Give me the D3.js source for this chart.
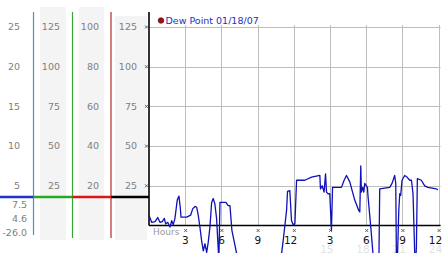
<!DOCTYPE html>
<html>
<head>
<meta charset="utf-8">
<script src="https://cdn.jsdelivr.net/npm/d3@7"></script>
<style>
  body { margin: 0; background: #fff; }
  svg { display: block; font-family: "DejaVu Sans", Verdana, sans-serif; }
</style>
</head>
<body>
<svg id="chart"></svg>
<script>
// data
const legendLabel = "Dew Point 01/18/07";
const hours = [0.00, 0.22, 0.50, 0.72, 0.91, 1.10, 1.27, 1.38, 1.55, 1.74, 1.88, 2.01, 2.15, 2.34, 2.48, 2.59, 2.65, 3.12,
  3.45, 3.62, 3.81, 3.95, 4.08, 4.22, 4.36, 4.50, 4.64, 4.78, 4.91, 5.05, 5.19, 5.32, 5.46, 5.60, 5.79, 5.88, 6.07, 6.37,
  6.56, 6.71, 6.87, 7.26, 7.95, 8.77, 9.40, 10.43, 10.99, 11.12, 11.26, 11.40, 11.48, 11.67, 11.81, 11.95, 12.09, 12.23,
  12.91, 13.47, 14.16, 14.21, 14.35, 14.51, 14.63, 14.71, 14.84, 14.98, 15.12, 15.21, 15.95, 16.17, 16.37, 16.64, 17.05,
  17.38, 17.47, 17.55, 17.60, 17.71, 17.80, 17.88, 18.10, 18.15, 18.38, 18.56, 18.79, 19.06, 19.12, 19.95, 20.14, 20.36,
  20.45, 20.50, 20.56, 20.70, 20.78, 20.86, 20.97, 21.19, 21.38, 21.61, 21.75, 21.88, 21.96, 22.02, 22.10, 22.16, 22.24,
  22.57, 22.85, 23.10, 23.82, 23.95];
const dewPoint = [1.3, 0.4, 0.5, 1.0, 0.4, 0.5, 0.9, 0.2, 0.4, -0.2, 0.6, 0.1, 0.9, 3.2, 3.7, 2.3, 1.05, 1.05,
  1.3, 2.1, 2.4, 2.3, 1.3, -0.2, -1.9, -3.2, -2.3, -3.4, -2.1, -0.2, 2.9, 3.4, 2.7, 0.9, -4.4, 2.9, 2.9, 2.9,
  2.5, 2.5, -0.6, -3.5, -8.2, -26.0, -9.5, -7.0, -3.5, -1.9, 0.0, 1.9, 4.3, 4.4, 0.6, 0.1, 0.2, 5.7,
  5.7, 6.1, 6.3, 4.6, 5.0, 4.2, 6.5, 4.2, 4.0, 4.0, -0.6, 4.8, 4.8, 5.7, 6.3, 5.5, 3.2,
  1.9, 1.7, 7.5, 4.2, 4.8, 4.2, 5.3, 4.8, 3.7, -0.2, -3.5, -7.0, -3.5, 4.6, 4.8, 5.3, 6.3,
  5.3, -3.5, -5.7, 1.9, 4.0, 3.8, 5.7, 6.3, 6.1, 5.7, 5.7, 4.0, -0.2, -3.5, -4.7, -2.7, 5.9,
  5.7, 5.0, 4.8, 4.6, 4.5];
const statLabels = ["7.5", "4.6", "-26.0"];   // high, average, low
const currentDew = 3.6;

// left scale columns
const scaleCols = [
  { max: 25,  ticks: [25, 20, 15, 10, 5],      lineColor: "#3a9cc0", barColor: "#1f33cc", shade: false },
  { max: 125, ticks: [125, 100, 75, 50, 25],   lineColor: "#33a833", barColor: "#22aa22", shade: true },
  { max: 100, ticks: [100, 80, 60, 40, 20],    lineColor: "#b82828", barColor: "#dd1515", shade: true },
  { max: 125, ticks: [125, 100, 75, 50, 25],   lineColor: "#000",    barColor: "#000",    shade: true }
];
const xTicks = [3, 6, 9, 12, 15, 18, 21, 24];
const xTickLabels = ["3", "6", "9", "12", "3", "6", "9", "12"];
const xTickLabels2 = ["", "", "", "", "15", "18", "21", "24"];

const width = 442, height = 253;
const svg = d3.select("#chart").attr("width", width).attr("height", height);

const plotLeft = 149, plotRight = 438.6, yZero = 225.5, yTop = 27;
const x = d3.scaleLinear().domain([0, 24]).range([plotLeft, plotRight]);
const yC = d3.scaleLinear().domain([0, 25]).range([yZero, yTop]);

// column geometry
const colX = [0, 33.5, 72.5, 111, 149];
const labelRight = [20, 60, 99, 137];
const shadeBox = [null, [40, 7, 26], [79, 7, 25], [115, 16, 32]];

scaleCols.forEach((c, i) => {
  const ys = d3.scaleLinear().domain([0, c.max]).range([yZero, yTop]);
  if (c.shade) {
    const b = shadeBox[i];
    svg.append("rect").attr("x", b[0]).attr("y", b[1]).attr("width", b[2]).attr("height", 240 - b[1])
      .attr("fill", "#f4f4f4");
  }
  svg.append("g").selectAll("text").data(c.ticks).enter().append("text")
    .attr("x", labelRight[i]).attr("y", d => ys(d)).attr("dy", "0.35em")
    .attr("text-anchor", "end").style("font-size", "9.5px").style("fill", "#808080")
    .text(d => d);
});

// stats under the first column
svg.append("g").selectAll("text").data(statLabels).enter().append("text")
  .attr("x", 27).attr("y", (d, i) => 205 + i * 14).attr("dy", "0.35em")
  .attr("text-anchor", "end").style("font-size", "9.5px").style("fill", "#808080")
  .text(d => d);

// vertical divider lines
scaleCols.forEach((c, i) => {
  if (i === 3) return;
  svg.append("line").attr("x1", colX[i + 1]).attr("x2", colX[i + 1])
    .attr("y1", 12).attr("y2", i === 0 ? 235 : 238)
    .attr("stroke", c.lineColor).attr("stroke-width", 1.2);
});

// grid
const grid = svg.append("g").attr("stroke", "#bdbdbd").attr("stroke-width", 1);
grid.selectAll(".h").data([5, 10, 15, 20, 25]).enter().append("line")
  .attr("x1", plotLeft).attr("x2", plotRight + 2)
  .attr("y1", d => Math.round(yC(d)) + 0.5).attr("y2", d => Math.round(yC(d)) + 0.5);
grid.selectAll(".v").data(xTicks).enter().append("line")
  .attr("x1", d => Math.round(x(d)) + 0.5).attr("x2", d => Math.round(x(d)) + 0.5)
  .attr("y1", 25).attr("y2", yZero);

// current value bar across columns
scaleCols.forEach((c, i) => {
  svg.append("line").attr("x1", colX[i]).attr("x2", colX[i + 1])
    .attr("y1", yC(currentDew)).attr("y2", yC(currentDew))
    .attr("stroke", c.barColor).attr("stroke-width", 2.5);
});

// axes lines
svg.append("line").attr("x1", plotLeft).attr("x2", plotLeft).attr("y1", 12).attr("y2", yZero)
  .attr("stroke", "#000").attr("stroke-width", 1.6);
svg.append("line").attr("x1", plotLeft).attr("x2", plotRight + 2).attr("y1", yZero).attr("y2", yZero)
  .attr("stroke", "#000").attr("stroke-width", 1.3);

// small tick marks
function mark(g, cx, cy) {
  g.append("path")
    .attr("d", `M${cx - 1.5},${cy - 1.5}L${cx + 1.5},${cy + 1.5}M${cx + 1.5},${cy - 1.5}L${cx - 1.5},${cy + 1.5}`)
    .attr("stroke", "#444").attr("stroke-width", 0.8).attr("fill", "none");
}
const marks = svg.append("g");
[5, 10, 15, 20, 25].forEach(d => mark(marks, 146.5, yC(d)));
xTicks.forEach(d => mark(marks, x(d) + 0.5, 230.5));

// x labels
svg.append("g").selectAll("text").data(xTicks).enter().append("text")
  .attr("x", d => x(d) + 3.5).attr("y", 243.5).attr("text-anchor", "end")
  .style("font-size", "10.5px").style("fill", "#111")
  .text((d, i) => xTickLabels[i]);
svg.append("g").selectAll("text").data(xTicks).enter().append("text")
  .attr("x", d => x(d) + 3.5).attr("y", 252.5).attr("text-anchor", "end")
  .style("font-size", "10.5px").style("fill", "#e2e2e2")
  .text((d, i) => xTickLabels2[i]);
svg.append("text").attr("x", 153).attr("y", 235).style("font-size", "9px").style("fill", "#999")
  .text("Hours");

// dew point line
const line = d3.line().x((d, i) => x(hours[i])).y(d => yC(d));
svg.append("path").datum(dewPoint).attr("d", line)
  .attr("fill", "none").attr("stroke", "#1010b8").attr("stroke-width", 1.3)
  .attr("stroke-linejoin", "round");

// legend
svg.append("circle").attr("cx", 161).attr("cy", 20.5).attr("r", 2.8)
  .attr("fill", "#a01010").attr("stroke", "#500").attr("stroke-width", 0.6);
svg.append("text").attr("x", 165.5).attr("y", 24).style("font-size", "9.5px").style("fill", "#1f2fbf")
  .text(legendLabel);
</script>
</body>
</html>
